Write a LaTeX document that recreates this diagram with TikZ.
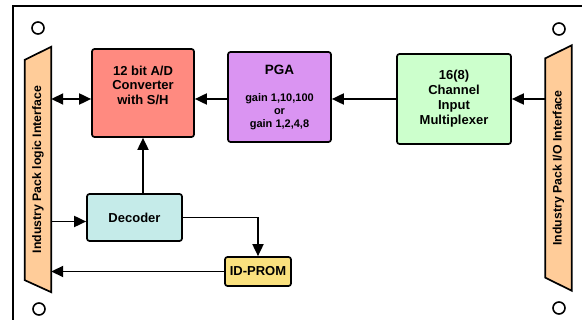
\documentclass[tikz,border=0pt]{standalone}
\usepackage{fontspec}
\setmainfont{Liberation Sans}
\usetikzlibrary{arrows.meta,backgrounds}

\definecolor{adcred}{HTML}{FF8A80}
\definecolor{pgaviolet}{HTML}{DA94F2}
\definecolor{muxgreen}{HTML}{CCFFCC}
\definecolor{decblue}{HTML}{C5EBE9}
\definecolor{promyellow}{HTML}{FAE17E}
\definecolor{sideorange}{HTML}{FFCC99}

\tikzset{
  blk/.style={draw, line width=1.7pt, rounded corners=2.5pt, inner sep=0pt, align=center,
    font=\fontsize{13}{14.5}\selectfont\bfseries},
  side/.style={inner sep=0pt, minimum width=26pt, minimum height=245pt,
    font=\fontsize{12.3}{14}\selectfont\bfseries},
  sidefill/.style={draw, line width=1.7pt, fill=sideorange},
  hole/.style={draw, circle, line width=1.6pt, minimum size=12pt, inner sep=0pt},
  wire/.style={line width=1.8pt},
}

\begin{document}
\begin{tikzpicture}[x=1pt, y=-1pt, >={Triangle[length=12pt,width=11pt]}]
\useasboundingbox (0,0) rectangle (582,320);

\draw [line width=2pt] (582,6) -- (13,6) -- (13,320);

\node[hole] (hole_tl) at (38,28) {};
\node[hole] (hole_bl) at (39,309) {};
\node[hole] (hole_tr) at (559,29) {};
\node[hole] (hole_br) at (559,308) {};

\node[side] (ipl) at (38,169.5) {\rotatebox{90}{Industry Pack logic Interface}};
\node[side] (iop) at (558.5,168) {\rotatebox{90}{Industry Pack I/O Interface}};
\begin{scope}[on background layer]
\draw [sidefill] (ipl.north east) -- (ipl.south east) -- ([yshift=12pt]ipl.south west) -- ([yshift=-13pt]ipl.north west) -- cycle;
\draw [sidefill] (iop.north east) -- (iop.south east) -- ([yshift=13pt]iop.south west) -- ([yshift=-13pt]iop.north west) -- cycle;
\end{scope}

\node[blk, fill=adcred, minimum width=102pt, minimum height=88pt] (adc) at (143,93) {};
\node[align=center, font=\fontsize{13}{14.5}\selectfont\bfseries] (adc_txt) at ([yshift=8pt]adc.center) {12 bit A/D\\Converter\\with S/H};

\node[blk, fill=pgaviolet, minimum width=103pt, minimum height=90pt, font=\fontsize{11}{13}\selectfont\bfseries] (pga) at (279.5,97) {{\fontsize{13.5}{15}\selectfont PGA}\\[14pt]gain 1,10,100\\or\\gain 1,2,4,8};

\node[blk, fill=muxgreen, minimum width=114pt, minimum height=90pt, font=\fontsize{13}{15}\selectfont\bfseries] (mux) at (454,99) {16(8)\\Channel\\Input\\Multiplexer};

\node[blk, fill=decblue, minimum width=95pt, minimum height=47pt] (dec) at (134.5,217.5) {Decoder};

\node[blk, fill=promyellow, minimum width=66pt, minimum height=29pt] (prom) at (258,271.5) {ID-PROM};

\draw [wire,<->] (ipl.east |- mux.west) -- (adc.west |- mux.west);
\draw [wire,->] (pga.west |- mux.west) -- (adc.east |- mux.west);
\draw [wire,->] (mux.west) -- (pga.east |- mux.west);
\draw [wire,->] (iop.west |- mux.east) -- (mux.east);
\draw [wire,->] (dec.north -| adc.south) -- (adc.south);
\draw [wire,->] ([yshift=-4pt]ipl.east |- dec.west) -- ([yshift=-4pt]dec.west);
\draw [wire,->] (dec.east) -| (prom.north);
\draw [wire,->] (prom.west) -- (ipl.east |- prom.west);

\end{tikzpicture}
\end{document}
